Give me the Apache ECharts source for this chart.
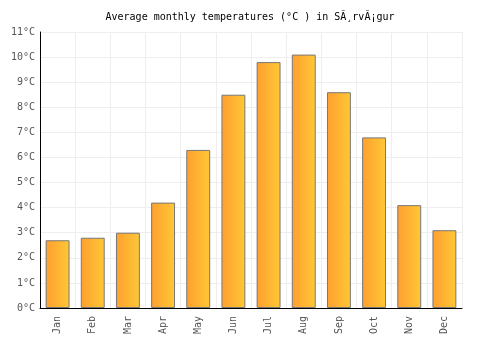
<!DOCTYPE html>
<html>
<head>
<meta charset="utf-8">
<script src="https://cdn.jsdelivr.net/npm/echarts@6/dist/echarts.min.js"></script>
<style>
  html, body { margin: 0; padding: 0; background: #fff; }
  #chart { width: 500px; height: 350px; }
</style>
</head>
<body>
<div id="chart"></div>
<script>
// data
var months = ['Jan', 'Feb', 'Mar', 'Apr', 'May', 'Jun', 'Jul', 'Aug', 'Sep', 'Oct', 'Nov', 'Dec'];
var temps = [2.7, 2.8, 3.0, 4.2, 6.3, 8.5, 9.8, 10.1, 8.6, 6.8, 4.1, 3.1];
var titleText = 'Average monthly temperatures (°C ) in SÃ¸rvÃ¡gur';

var font = 'DejaVu Sans Mono';
var chart = echarts.init(document.getElementById('chart'));

var option = {
  animation: false,
  title: {
    text: titleText,
    left: 'center',
    top: 7,
    textStyle: { fontFamily: font, fontSize: 10, fontWeight: 'normal', color: '#000' }
  },
  grid: { left: 40, right: 38, top: 32, bottom: 42 },
  xAxis: {
    type: 'category',
    data: months,
    axisLine: { lineStyle: { color: '#000', width: 1 } },
    axisTick: { show: false },
    axisLabel: { rotate: 90, color: '#555', fontFamily: font, fontSize: 10, margin: 8 },
    splitLine: { show: true, lineStyle: { color: '#eee', width: 1 } }
  },
  yAxis: {
    type: 'value',
    min: 0,
    max: 11,
    interval: 1,
    axisLine: { show: true, lineStyle: { color: '#000', width: 1 } },
    axisTick: { show: false },
    axisLabel: { formatter: '{value}°C', color: '#555', fontFamily: font, fontSize: 10, margin: 5 },
    splitLine: { lineStyle: { color: '#eee', width: 1 } }
  },
  series: [{
    type: 'bar',
    data: temps,
    barWidth: '68%',
    itemStyle: {
      color: new echarts.graphic.LinearGradient(0, 0, 1, 0, [
        { offset: 0, color: '#ff9f30' },
        { offset: 1, color: '#ffc835' }
      ]),
      borderColor: '#777',
      borderWidth: 1
    }
  }]
};
chart.setOption(option);
</script>
</body>
</html>
